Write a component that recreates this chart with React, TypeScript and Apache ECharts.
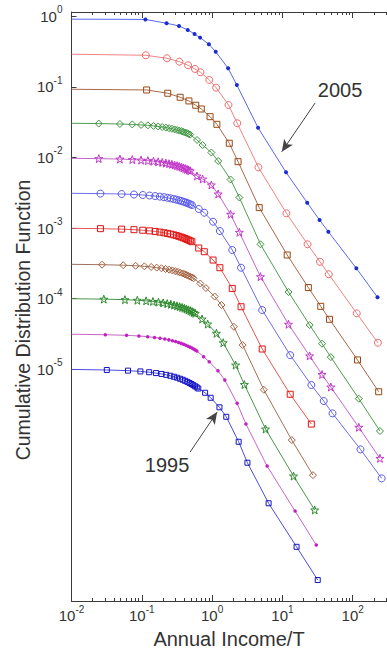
import React, { useEffect, useRef } from "react";
import * as echarts from "echarts";

// ---------------- data ----------------
const years = ["2005", "2004", "2003", "2002", "2001", "2000", "1999", "1998", "1997", "1996", "1995"];

const income2005 = [0.1125, 0.225, 0.338, 0.45, 0.563, 0.675, 0.9, 1.125, 1.69, 2.25, 4.5, 11.25, 22.5, 33.8, 45, 112.5, 225];
const cdf2005 = [0.901, 0.796, 0.729, 0.64, 0.561, 0.498, 0.401, 0.315, 0.183, 0.106, 0.0264, 0.00617, 0.00229, 0.0013, 0.000889, 0.00027, 0.000105];

const income2004 = [0.114, 0.228, 0.342, 0.456, 0.57, 0.684, 0.912, 1.14, 1.71, 2.28, 4.56, 11.4, 22.8, 34.2, 45.6, 114, 228];
const cdf2004 = [0.28, 0.254, 0.2275, 0.2023, 0.1793, 0.1609, 0.1252, 0.0974, 0.0554, 0.0305, 0.00726, 0.00162, 0.00059, 0.000334, 0.000222, 6.21e-5, 2.38e-5];

const income2003 = [0.117, 0.234, 0.351, 0.468, 0.585, 0.702, 0.936, 1.17, 1.755, 2.34, 4.68, 11.7, 23.4, 35.1, 46.8, 117, 234];
const cdf2003 = [0.0904, 0.0812, 0.0712, 0.0632, 0.0549, 0.0486, 0.0378, 0.0295, 0.0159, 0.00872, 0.00195, 0.000416, 0.000144, 7.81e-5, 5.11e-5, 1.36e-5, 4.82e-6];

const income2002 = [0.0244, 0.0488, 0.0732, 0.0976, 0.122, 0.1464, 0.1708, 0.1952, 0.2196, 0.244, 0.2684, 0.2928, 0.3172, 0.3416, 0.366, 0.3904, 0.4148, 0.4392, 0.4636, 0.488, 0.61, 0.732, 0.976, 1.22, 1.83, 2.44, 4.88, 12.2, 24.4, 36.6, 48.8, 122, 244];
const cdf2002 = [0.0302, 0.0298, 0.0294, 0.0289, 0.0285, 0.028, 0.0275, 0.027, 0.0265, 0.026, 0.0255, 0.025, 0.0245, 0.024, 0.0236, 0.0231, 0.0226, 0.0221, 0.0216, 0.0211, 0.0177, 0.01503, 0.01177, 0.00892, 0.00488, 0.00271, 0.00059, 0.0001245, 4.24e-5, 2.31e-5, 1.49e-5, 3.84e-6, 1.34e-6];

const income2001 = [0.0244, 0.0488, 0.0732, 0.0976, 0.122, 0.1464, 0.1708, 0.1952, 0.2196, 0.244, 0.2684, 0.2928, 0.3172, 0.3416, 0.366, 0.3904, 0.4148, 0.4392, 0.4636, 0.488, 0.61, 0.732, 0.976, 1.22, 1.83, 2.44, 4.88, 12.2, 24.4, 36.6, 48.8, 122, 244];
const cdf2001 = [0.00963, 0.0095, 0.00934, 0.00918, 0.00902, 0.00885, 0.00868, 0.00851, 0.00833, 0.00816, 0.00799, 0.00781, 0.00764, 0.00747, 0.0073, 0.00713, 0.00697, 0.0068, 0.00664, 0.00648, 0.00547, 0.00496, 0.00408, 0.00304, 0.00157, 0.000872, 0.000205, 4.35e-5, 1.55e-5, 8.44e-6, 5.62e-6, 1.51e-6, 5.49e-7];

const income2000 = [0.0258, 0.0516, 0.0774, 0.1032, 0.129, 0.1548, 0.1806, 0.2064, 0.2322, 0.258, 0.2838, 0.3096, 0.3354, 0.3612, 0.387, 0.4128, 0.4386, 0.4644, 0.4902, 0.516, 0.645, 0.774, 1.032, 1.29, 1.935, 2.58, 5.16, 12.9, 25.8, 38.7, 51.6, 129, 258];
const cdf2000 = [0.003079, 0.003038, 0.002993, 0.002944, 0.002894, 0.002844, 0.002793, 0.00274, 0.002688, 0.002635, 0.002582, 0.00253, 0.002477, 0.002425, 0.002374, 0.002323, 0.002272, 0.002222, 0.002172, 0.002123, 0.001865, 0.001652, 0.001232, 0.00091, 0.00049, 0.000275, 6.92e-5, 1.59e-5, 6.0e-6, 3.56e-6, 2.38e-6, 7.36e-7, 2.86e-7];

const income1999 = [0.0258, 0.0516, 0.0774, 0.1032, 0.129, 0.1548, 0.1806, 0.2064, 0.2322, 0.258, 0.2838, 0.3096, 0.3354, 0.3612, 0.387, 0.4128, 0.4386, 0.4644, 0.4902, 0.516, 0.645, 0.774, 1.032, 1.29, 1.935, 2.58, 5.16, 12.9, 25.8];
const cdf1999 = [0.000982, 0.000967, 0.00095, 0.000933, 0.000915, 0.000897, 0.000878, 0.000859, 0.000841, 0.000822, 0.000803, 0.000784, 0.000766, 0.000747, 0.000729, 0.000711, 0.000694, 0.000676, 0.000659, 0.000642, 0.000523, 0.000463, 0.000353, 0.000275, 0.00014, 7.7e-5, 1.94e-5, 4.44e-6, 1.68e-6];

const income1998 = [0.0272, 0.0544, 0.0816, 0.1088, 0.136, 0.1632, 0.1904, 0.2176, 0.2448, 0.272, 0.2992, 0.3264, 0.3536, 0.3808, 0.408, 0.4352, 0.4624, 0.4896, 0.5168, 0.544, 0.68, 0.816, 1.088, 1.36, 2.04, 2.72, 5.44, 13.6, 27.2];
const cdf1998 = [0.0003034, 0.0002985, 0.0002932, 0.0002876, 0.0002818, 0.0002759, 0.0002699, 0.0002639, 0.0002579, 0.0002519, 0.0002459, 0.00024, 0.0002341, 0.0002282, 0.0002224, 0.0002167, 0.0002111, 0.0002055, 0.0002001, 0.0001947, 0.0001642, 0.0001418, 0.0001074, 8.14e-5, 4.01e-5, 2.21e-5, 5.14e-6, 9.97e-7, 3.18e-7];

const income1997 = [0.0288, 0.0576, 0.0864, 0.1152, 0.144, 0.1728, 0.2016, 0.2304, 0.2592, 0.288, 0.3168, 0.3456, 0.3744, 0.4032, 0.432, 0.4608, 0.4896, 0.5184, 0.5472, 0.576, 0.72, 0.864, 1.152, 1.44, 2.16, 2.88, 5.76, 14.4, 28.8];
const cdf1997 = [9.87e-5, 9.7e-5, 9.52e-5, 9.33e-5, 9.14e-5, 8.94e-5, 8.73e-5, 8.53e-5, 8.33e-5, 8.13e-5, 7.92e-5, 7.72e-5, 7.53e-5, 7.33e-5, 7.14e-5, 6.95e-5, 6.76e-5, 6.57e-5, 6.39e-5, 6.21e-5, 5.16e-5, 4.38e-5, 3.24e-5, 2.38e-5, 1.15e-5, 6.09e-6, 1.43e-6, 3.08e-7, 1.02e-7];

const income1996 = [0.0303, 0.0606, 0.0909, 0.1212, 0.1515, 0.1818, 0.2121, 0.2424, 0.2727, 0.303, 0.3333, 0.3636, 0.3939, 0.4242, 0.4545, 0.4848, 0.5151, 0.5454, 0.5757, 0.606, 0.758, 0.909, 1.212, 1.515, 2.27, 3.03, 6.06, 15.15, 30.3];
const cdf1996 = [3.093e-5, 3.033e-5, 2.968e-5, 2.9e-5, 2.83e-5, 2.759e-5, 2.688e-5, 2.616e-5, 2.544e-5, 2.473e-5, 2.403e-5, 2.333e-5, 2.265e-5, 2.197e-5, 2.13e-5, 2.065e-5, 2.0e-5, 1.937e-5, 1.876e-5, 1.815e-5, 1.51e-5, 1.28e-5, 9.56e-6, 7.06e-6, 3.3e-6, 1.68e-6, 4.27e-7, 9.84e-8, 3.25e-8];

const income1995 = [0.0318, 0.0636, 0.0954, 0.1272, 0.159, 0.1908, 0.2226, 0.2544, 0.2862, 0.318, 0.3498, 0.3816, 0.4134, 0.4452, 0.477, 0.5088, 0.5406, 0.5724, 0.6042, 0.636, 0.795, 0.954, 1.272, 1.59, 2.385, 3.18, 6.36, 15.9, 31.8];
const cdf1995 = [9.8e-6, 9.59e-6, 9.35e-6, 9.11e-6, 8.86e-6, 8.61e-6, 8.36e-6, 8.11e-6, 7.85e-6, 7.61e-6, 7.36e-6, 7.12e-6, 6.88e-6, 6.65e-6, 6.42e-6, 6.2e-6, 5.98e-6, 5.76e-6, 5.56e-6, 5.35e-6, 4.66e-6, 3.96e-6, 2.9e-6, 2.13e-6, 9.43e-7, 4.76e-7, 1.27e-7, 3.07e-8, 1.04e-8];

// fitted lines start at the left edge of the plot at the plateau level
const lineStartIncome = 0.01;
const lineStartCdf = [0.91, 0.29, 0.0925, 0.0305, 0.00974, 0.00311, 0.000994, 0.000307, 0.0001, 3.14e-5, 9.97e-6];

// axes (decade exponents)
const xTickExponents = [-2, -1, 0, 1, 2];
const yTickExponents = [0, -1, -2, -3, -4, -5];
const xExtentExp = [-2, 2.6];
const yExtentExp = [-8.28, 0.06];

// annotations [income, cdf]
const note2005 = { text: "2005", at: [66.2, 0.0904], tail: [29.2, 0.0592], head: [9.8, 0.01208] };
const note1995 = { text: "1995", at: [0.229, 4.41e-7], tail: [0.486, 6.74e-7], head: [1.178, 2.48e-6] };

// ---------------- styles ----------------
const FONT = "'Liberation Sans', Arial, Helvetica, sans-serif";
const TEXT = "#333333";
const AXIS = "#3a3a3a";
const STAR = "path://M0,-10L2.35,-3.24L9.51,-3.09L3.8,1.24L5.88,8.09L0,4L-5.88,8.09L-3.8,1.24L-9.51,-3.09L-2.35,-3.24Z";

const looks = [
  { symbol: "circle", size: 4, filled: true, color: "#1a2bd0", line: "#5a68ee" },
  { symbol: "circle", size: 7, filled: false, color: "#f06a6a", line: "#f08484" },
  { symbol: "rect", size: 6, filled: false, color: "#9a4812", line: "#a8694a" },
  { symbol: "diamond", size: 7, filled: false, color: "#3c953c", line: "#519d51" },
  { symbol: STAR, size: 8, filled: false, color: "#c236c8", line: "#c266cc" },
  { symbol: "circle", size: 7, filled: false, color: "#5858ee", line: "#6d6df0" },
  { symbol: "rect", size: 6, filled: false, color: "#e01414", line: "#e85555" },
  { symbol: "diamond", size: 7, filled: false, color: "#a4603e", line: "#a0705a" },
  { symbol: STAR, size: 8, filled: false, color: "#2c8a2c", line: "#4a964a" },
  { symbol: "circle", size: 3.5, filled: true, color: "#c21fc2", line: "#c865c8" },
  { symbol: "rect", size: 5, filled: false, color: "#1414c4", line: "#4c4ce2" },
];

const L = (v: number) => Math.log10(v);

const supFormatter = (v: number) => `{b|10}{s|${Math.round(v)}}`;
const supRich = {
  b: { fontSize: 15, fontFamily: FONT, color: TEXT, lineHeight: 18 },
  s: { fontSize: 10, fontFamily: FONT, color: TEXT, padding: [0, 0, 13, 0] },
};

function minorTickExponents(): number[] {
  const out: number[] = [];
  for (let d = Math.floor(xExtentExp[0]); d <= Math.ceil(xExtentExp[1]); d++) {
    for (let k = 2; k <= 9; k++) {
      const v = d + Math.log10(k);
      if (v > xExtentExp[0] && v < xExtentExp[1]) out.push(v);
    }
  }
  return out;
}

function buildOption(): any {
  const incomes = [income2005, income2004, income2003, income2002, income2001, income2000, income1999, income1998, income1997, income1996, income1995];
  const cdfs = [cdf2005, cdf2004, cdf2003, cdf2002, cdf2001, cdf2000, cdf1999, cdf1998, cdf1997, cdf1996, cdf1995];
  const minors = minorTickExponents();

  const arrowMark = (n: typeof note2005) => ({
    silent: true,
    symbol: ["none", "arrow"],
    symbolSize: [8, 12],
    label: { show: false },
    emphasis: { disabled: true },
    lineStyle: { color: "#444", width: 1, type: "solid" },
    itemStyle: { color: "#111" },
    data: [[{ coord: [L(n.tail[0]), L(n.tail[1])] }, { coord: [L(n.head[0]), L(n.head[1])] }]],
  });
  const textMark = (n: typeof note2005) => ({
    silent: true,
    symbol: "circle",
    symbolSize: 0,
    itemStyle: { color: "rgba(0,0,0,0)" },
    label: { show: true, position: "inside", formatter: "{b}", fontSize: 20, fontFamily: FONT, color: TEXT },
    data: [{ name: n.text, coord: [L(n.at[0]), L(n.at[1])] }],
  });

  const series: any[] = years.map((year, i) => {
    const st = looks[i];
    const data: any[] = [{ value: [L(lineStartIncome), L(lineStartCdf[i])], symbol: "none" }];
    incomes[i].forEach((x, j) => data.push([L(x), L(cdfs[i][j])]));
    const s: any = {
      type: "line",
      name: year,
      data,
      symbol: st.symbol,
      symbolSize: st.size,
      showSymbol: true,
      lineStyle: { color: st.line, width: 1 },
      itemStyle: st.filled
        ? { color: st.color }
        : { color: "rgba(255,255,255,0)", borderColor: st.color, borderWidth: 1 },
      emphasis: { disabled: true },
      silent: true,
    };
    if (year === note2005.text) {
      s.markLine = arrowMark(note2005);
      s.markPoint = textMark(note2005);
    }
    if (year === note1995.text) {
      s.markLine = arrowMark(note1995);
      s.markPoint = textMark(note1995);
    }
    return s;
  });

  const baseX = {
    type: "value",
    min: xExtentExp[0],
    max: xExtentExp[1],
    splitLine: { show: false },
  };

  return {
    animation: false,
    backgroundColor: "#ffffff",
    grid: { left: 71.5, top: 12, width: 323.4, height: 589, containLabel: false, outerBoundsMode: "none" },
    xAxis: [
      {
        ...baseX,
        position: "bottom",
        axisLine: { show: true, onZero: false, lineStyle: { color: AXIS, width: 1 } },
        axisTick: { show: true, inside: true, length: 6, customValues: xTickExponents, lineStyle: { color: AXIS } },
        axisLabel: { show: true, customValues: xTickExponents, formatter: supFormatter, rich: supRich, margin: 3, color: TEXT, fontFamily: FONT },
      },
      {
        ...baseX,
        position: "bottom",
        axisLine: { show: false, onZero: false },
        axisTick: { show: true, inside: true, length: 3, customValues: minors, lineStyle: { color: AXIS } },
        axisLabel: { show: false },
      },
      {
        ...baseX,
        position: "top",
        axisLine: { show: true, onZero: false, lineStyle: { color: AXIS, width: 1 } },
        axisTick: { show: true, inside: true, length: 6, customValues: xTickExponents, lineStyle: { color: AXIS } },
        axisLabel: { show: false },
      },
      {
        ...baseX,
        position: "top",
        axisLine: { show: false, onZero: false },
        axisTick: { show: true, inside: true, length: 3, customValues: minors, lineStyle: { color: AXIS } },
        axisLabel: { show: false },
      },
    ],
    yAxis: {
      type: "value",
      min: yExtentExp[0],
      max: yExtentExp[1],
      splitLine: { show: false },
      axisLine: { show: true, onZero: false, lineStyle: { color: AXIS, width: 1 } },
      axisTick: { show: true, inside: true, length: 5, customValues: yTickExponents, lineStyle: { color: AXIS } },
      axisLabel: { show: true, customValues: yTickExponents, formatter: supFormatter, rich: supRich, margin: 9, color: TEXT, fontFamily: FONT },
    },
    graphic: {
      elements: [
        {
          type: "text",
          x: 229,
          y: 639,
          silent: true,
          style: { text: "Annual Income/T", fontSize: 20, fontFamily: FONT, fill: TEXT, align: "center", verticalAlign: "middle", textAlign: "center", textVerticalAlign: "middle" },
        },
        {
          type: "text",
          x: 23,
          y: 320,
          rotation: Math.PI / 2,
          silent: true,
          style: { text: "Cumulative Distribution Function", fontSize: 19.5, fontFamily: FONT, fill: TEXT, align: "center", verticalAlign: "middle", textAlign: "center", textVerticalAlign: "middle" },
        },
      ],
    },
    series,
  };
}

export default function App() {
  const ref = useRef<HTMLDivElement>(null);
  useEffect(() => {
    if (!ref.current) return;
    const chart = echarts.init(ref.current, null, { renderer: "svg" });
    chart.setOption(buildOption());
    return () => chart.dispose();
  }, []);
  return (
    <div
      ref={ref}
      style={{ position: "absolute", left: 0, top: 0, width: 387, height: 651, background: "#fff" }}
    />
  );
}
